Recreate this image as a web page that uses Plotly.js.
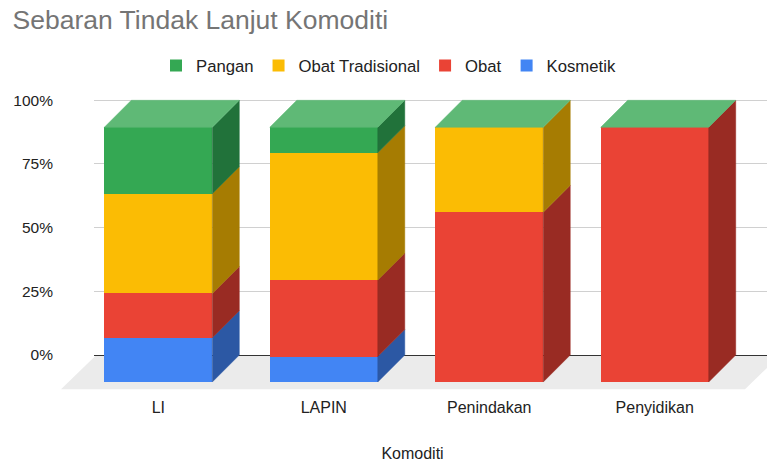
<!DOCTYPE html>
<html>
<head>
<meta charset="utf-8">
<script src="https://cdn.plot.ly/plotly-3.0.1.min.js"></script>
<style>
  html, body { margin: 0; padding: 0; background: #ffffff; }
  #chart { width: 767px; height: 462px; }
</style>
</head>
<body>
<div id="chart"></div>
<script>
// Categories on the x axis
const categories = ['LI', 'LAPIN', 'Penindakan', 'Penyidikan'];

// Follow-up counts per commodity group (stacked bottom to top)
const kosmetik        = [4, 1, 0, 0];
const obat            = [4, 3, 2, 1];
const obatTradisional = [9, 5, 1, 0];
const pangan          = [6, 1, 0, 0];

// Percentage axis ticks
const yTickValues = [0, 25, 50, 75, 100];
const yTickLabels = ['0%', '25%', '50%', '75%', '100%'];

// Series in stacking order, with front / side / top face colours
const series = [
  { name: 'Kosmetik',         values: kosmetik,        front: '#4285f4', side: '#2c58a4', top: '#7aa9f7' },
  { name: 'Obat',             values: obat,            front: '#ea4335', side: '#992b23', top: '#ef7b71' },
  { name: 'Obat Tradisional', values: obatTradisional, front: '#fbbc04', side: '#a67c02', top: '#fccf50' },
  { name: 'Pangan',           values: pangan,          front: '#34a853', side: '#21723a', top: '#5fb976' }
];

// ---- page geometry (pixels) ----
const W = 767, H = 462;
const plotTop = 92, plotBottom = 396;   // vertical extent of both subplots
const gridLeft = 94;                    // left edge of the back wall
const barsLeft = 58;                    // left edge of the bar subplot
const frontZero = 382, frontFull = 127.3; // rows of 0% / 100% on the front faces
const depth = 27;                       // receding offset of the back faces
const firstCenter = 158.3, catStep = 165.47;
const barPx = 108;
const floorFrontPx = 389.3, floorLeftPx = 61, floorRightPx = 745;

const font = 'Liberation Sans, Arial, sans-serif';

// px -> data conversions
const k = (frontZero - frontFull) / 100;           // px per percent
const yFrontRange = [(frontZero - plotBottom) / k, (frontZero - plotTop) / k];
const yBackRange = [(frontZero - depth - plotBottom) / k, (frontZero - depth - plotTop) / k];
const xBarsRange = [(barsLeft - firstCenter) / catStep, (W - firstCenter) / catStep];
const dx = depth / catStep;
const dy = depth / k;
const bw = barPx / catStep;

// Percent shares per category
const idx = categories.map((_, i) => i);
const totals = idx.map(i => series.reduce((s, sr) => s + sr.values[i], 0));
const shares = series.map(sr => sr.values.map((v, i) => totals[i] ? 100 * v / totals[i] : 0));

const traces = [];

// Back wall subplot (holds the percentage grid only)
traces.push({
  type: 'scatter', mode: 'none', x: [], y: [],
  xaxis: 'x', yaxis: 'y', showlegend: false, hoverinfo: 'skip'
});

// Front faces as stacked bars
series.forEach((sr, j) => {
  traces.push({
    type: 'bar',
    name: sr.name,
    x: idx,
    y: shares[j],
    width: bw,
    xaxis: 'x2', yaxis: 'y2',
    marker: { color: sr.front, line: { width: 0 } },
    hoverinfo: 'skip'
  });
});

// Side faces of every segment
const base = idx.map(() => 0);
series.forEach((sr, j) => {
  const xs = [], ys = [];
  idx.forEach(i => {
    const b = base[i], t = b + shares[j][i];
    if (t > b) {
      const xr = i + bw / 2;
      xs.push(xr, xr + dx, xr + dx, xr, xr, null);
      ys.push(b, b + dy, t + dy, t, b, null);
    }
    base[i] = t;
  });
  if (xs.length) {
    traces.push({
      type: 'scatter', mode: 'lines', x: xs, y: ys,
      xaxis: 'x2', yaxis: 'y2',
      fill: 'toself', fillcolor: sr.side,
      line: { width: 0.5, color: sr.side },
      showlegend: false, hoverinfo: 'skip'
    });
  }
});

// Top caps, coloured by the last series in the stack
const last = series[series.length - 1];
{
  const xs = [], ys = [];
  idx.forEach(i => {
    const t = base[i];
    const xl = i - bw / 2, xr = i + bw / 2;
    xs.push(xl, xr, xr + dx, xl + dx, xl, null);
    ys.push(t, t, t + dy, t + dy, t, null);
  });
  traces.push({
    type: 'scatter', mode: 'lines', x: xs, y: ys,
    xaxis: 'x2', yaxis: 'y2',
    fill: 'toself', fillcolor: last.top,
    line: { width: 0.5, color: last.top },
    showlegend: false, hoverinfo: 'skip'
  });
}

// Floor of the 3D box
const fxL = (floorLeftPx - firstCenter) / catStep;
const fxR = (floorRightPx - firstCenter) / catStep;
const fyF = (frontZero - floorFrontPx) / k;
const floorDepth = floorFrontPx - (frontZero - depth);
const fdx = floorDepth / catStep;
const fyB = fyF + floorDepth / k - 0.4;
const floorPath = `M ${fxL} ${fyF} L ${fxL + fdx} ${fyB} L ${fxR + fdx} ${fyB} L ${fxR} ${fyF} Z`;

const yDomain = [1 - plotBottom / H, 1 - plotTop / H];

const layout = {
  width: W, height: H,
  margin: { l: 0, r: 0, t: 0, b: 0, pad: 0 },
  paper_bgcolor: '#ffffff',
  plot_bgcolor: 'rgba(0,0,0,0)',
  barmode: 'stack',
  font: { family: font, size: 16, color: '#222222' },
  title: {
    text: 'Sebaran Tindak Lanjut Komoditi',
    xref: 'container', yref: 'container',
    x: 12.5 / W, xanchor: 'left',
    y: 1 - 19.5 / H, yanchor: 'middle',
    font: { family: font, size: 26.5, color: '#757575' }
  },
  showlegend: true,
  legend: {
    orientation: 'h',
    traceorder: 'reversed',
    x: 156 / W, xanchor: 'left',
    y: 1 - 65.7 / H, yanchor: 'middle',
    font: { family: font, size: 16.7, color: '#222222' },
    bgcolor: 'rgba(0,0,0,0)'
  },
  // back wall: grid lines and percentage labels
  xaxis: {
    domain: [gridLeft / W, 1], range: [0, 1], anchor: 'y',
    visible: false, fixedrange: true
  },
  yaxis: {
    domain: yDomain, range: yBackRange, anchor: 'x',
    tickvals: yTickValues, ticktext: yTickLabels,
    showgrid: true, gridcolor: '#d0d0d0', gridwidth: 1,
    zeroline: true, zerolinecolor: '#333333', zerolinewidth: 1,
    showline: false, ticks: '', ticklabelstandoff: 40,
    tickfont: { family: font, size: 15.5, color: '#222222' },
    fixedrange: true
  },
  // front: bars and faces
  xaxis2: {
    domain: [barsLeft / W, 1], range: xBarsRange, anchor: 'y2',
    tickvals: idx, ticktext: categories,
    showgrid: false, zeroline: false, showline: false, ticks: '',
    tickfont: { family: font, size: 16, color: '#222222' },
    title: { text: 'Komoditi', standoff: 32, font: { family: font, size: 16, color: '#222222' } },
    fixedrange: true
  },
  yaxis2: {
    domain: yDomain, range: yFrontRange, anchor: 'x2',
    visible: false, fixedrange: true
  },
  shapes: [{
    type: 'path', xref: 'x2', yref: 'y2', layer: 'below',
    path: floorPath, fillcolor: '#ebebeb', line: { width: 0 }
  }]
};

Plotly.newPlot('chart', traces, layout, { displayModeBar: false, staticPlot: true });
</script>
</body>
</html>
